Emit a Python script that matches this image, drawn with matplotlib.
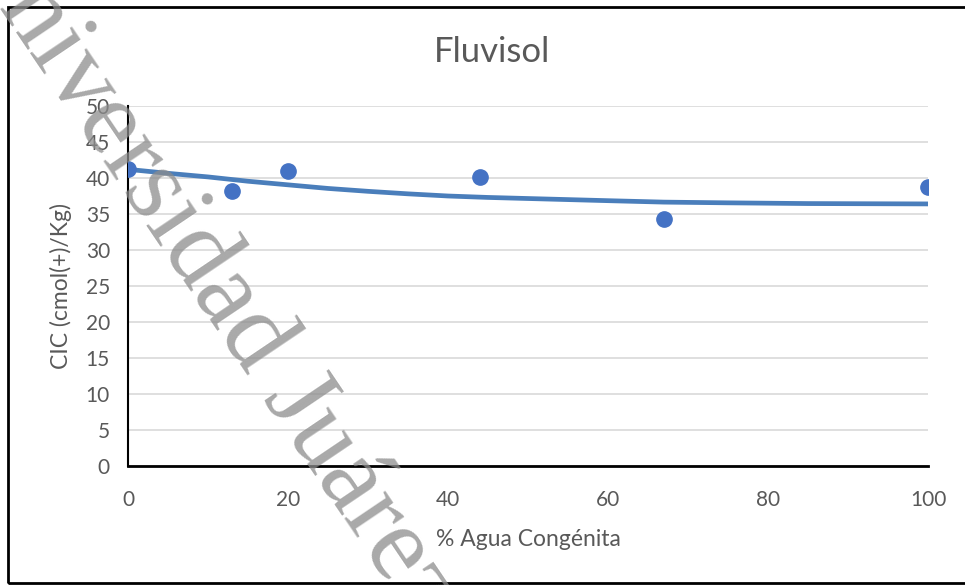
import matplotlib
matplotlib.use("Agg")
import matplotlib.pyplot as plt
from matplotlib.patches import Rectangle

# measured points (% agua congenita vs CIC)
agua = [0, 13, 20, 44, 67, 100]
cic = [41.2, 38.2, 41.0, 40.1, 34.3, 38.7]

# trend line
trend_x = [0, 5, 10, 15, 20, 25, 30, 35, 40, 45, 50, 55, 60, 67, 75, 85, 100]
trend_y = [41.2, 40.65, 40.15, 39.55, 39.05, 38.55, 38.15, 37.8, 37.5, 37.3, 37.15, 37.0, 36.85, 36.65, 36.55, 36.45, 36.4]

yticks = list(range(0, 55, 5))
xticks = list(range(0, 120, 20))

txt = "#595959"
plt.rcParams['font.family'] = ['Lato', 'DejaVu Sans']

fig = plt.figure(figsize=(9.65, 5.85), dpi=100)
ax = fig.add_axes([128/965, 1 - 466/585, 800/965, 360/585])

ax.plot(trend_x, trend_y, color="#4a7ebb", lw=3.4, solid_capstyle="round", zorder=3)
ax.plot(agua, cic, "o", color="#4472c4", ms=11, zorder=4)

ax.set_xlim(0, 100)
ax.set_ylim(0, 50)
ax.set_xticks(xticks)
ax.set_yticks(yticks)
ax.grid(axis="y", color="#d9d9d9", lw=1.2)
ax.set_axisbelow(True)
for s in ["top", "right"]:
    ax.spines[s].set_visible(False)
ax.spines["left"].set_color("black")
ax.spines["bottom"].set_color("black")
ax.spines["left"].set_linewidth(1.5)
ax.spines["bottom"].set_linewidth(2)
ax.tick_params(length=0, labelsize=15, labelcolor=txt)
ax.tick_params(axis="y", pad=13)
ax.tick_params(axis="x", pad=17)

ax.set_xlabel("% Agua Congénita", fontsize=16.5, color=txt, labelpad=14)
ax.set_ylabel("CIC (cmol(+)/Kg)", fontsize=16.5, color=txt, labelpad=10)
fig.text(492/965, 1 - 52/585, "Fluvisol", fontsize=25, color=txt, ha="center", va="center")

# outer frame
fig.patches.append(Rectangle((8/965, 2/585), 1.2, 576/585, transform=fig.transFigure,
                             fill=False, ec="black", lw=2))

# watermark
fig.text(206/965, 1 - 269/585, "Universidad Juárez", fontsize=77, color="#8c8c8c",
         family="Liberation Serif", alpha=0.75, rotation=-56, rotation_mode="anchor",
         ha="center", va="center", zorder=10)

fig.savefig("out.png", dpi=100)
